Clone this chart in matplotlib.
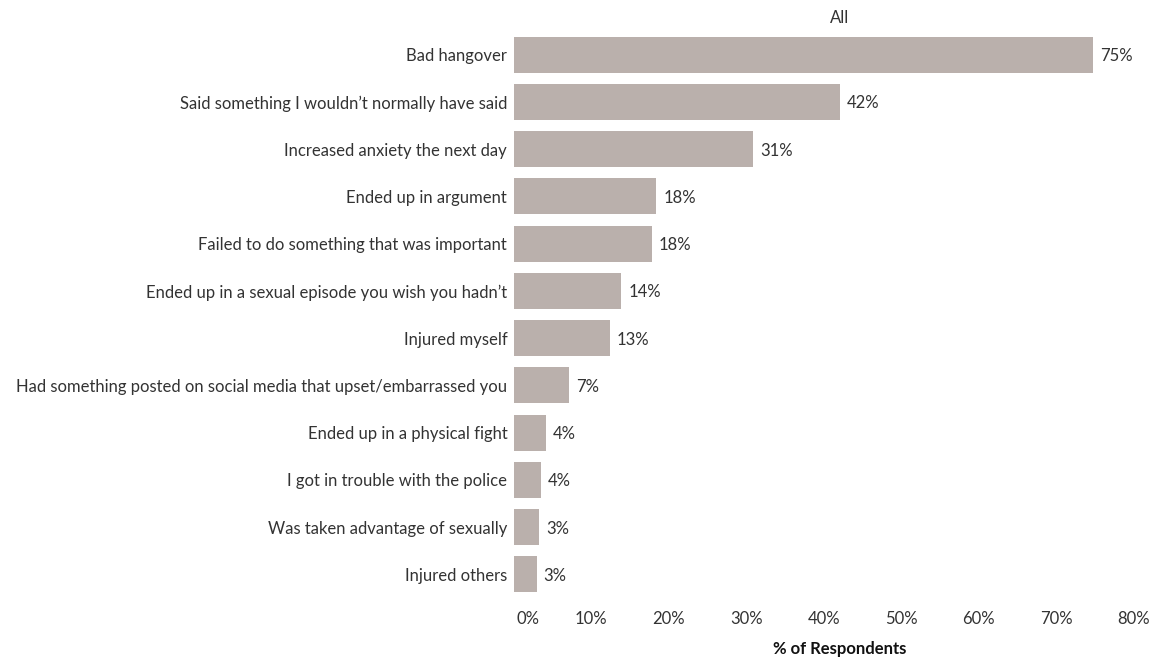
import matplotlib
matplotlib.use("Agg")
import matplotlib.pyplot as plt
from matplotlib.ticker import FixedLocator
from matplotlib.transforms import ScaledTranslation

categories = [
    "Bad hangover",
    "Said something I wouldn\u2019t normally have said",
    "Increased anxiety the next day",
    "Ended up in argument",
    "Failed to do something that was important",
    "Ended up in a sexual episode you wish you hadn\u2019t",
    "Injured myself",
    "Had something posted on social media that upset/embarrassed you",
    "Ended up in a physical fight",
    "I got in trouble with the police",
    "Was taken advantage of sexually",
    "Injured others",
]
values = [74.7, 42.1, 30.9, 18.4, 17.8, 13.9, 12.4, 7.2, 4.2, 3.5, 3.3, 3.0]
value_labels = ["75%", "42%", "31%", "18%", "18%", "14%", "13%", "7%", "4%", "4%", "3%", "3%"]
x_ticks = [0, 10, 20, 30, 40, 50, 60, 70, 80]
x_tick_labels = ["0%", "10%", "20%", "30%", "40%", "50%", "60%", "70%", "80%"]

plt.rcParams['font.family'] = ['Lato', 'DejaVu Sans']
text_color = "#333333"
bar_color = "#bab0ac"
fs = 12

W, H = 1152, 657
fig = plt.figure(figsize=(W / 100, H / 100), dpi=100)
left, right, top, bottom = 513.5, 1134, 31, 598
ax = fig.add_axes([left / W, 1 - bottom / H, (right - left) / W, (bottom - top) / H])

y = list(range(len(categories)))
ax.barh(y, values, height=0.76, color=bar_color, edgecolor="none")
ax.set_ylim(len(categories) - 0.5, -0.5)
ax.set_xlim(0, 80)

for yi, v, lab in zip(y, values, value_labels):
    ax.annotate(lab, (v, yi), xytext=(5, 0), textcoords="offset points",
                ha="left", va="center_baseline", fontsize=fs, color=text_color)

ax.set_yticks(y)
ax.set_yticklabels(categories, fontsize=fs, color=text_color, va="center_baseline")
ax.xaxis.set_major_locator(FixedLocator(x_ticks))
ax.set_xticklabels(x_tick_labels, fontsize=fs, color=text_color)
ax.tick_params(axis="both", length=0)
ax.tick_params(axis="y", pad=4.5)
ax.tick_params(axis="x", pad=9)
tl = ax.get_xticklabels()
tl[0].set_horizontalalignment("left")
tl[0].set_transform(tl[0].get_transform() + ScaledTranslation(3 / 100, 0, fig.dpi_scale_trans))
for s in ax.spines.values():
    s.set_visible(False)

fig.text(840 / W, 1 - 18 / H, "All", ha="center", va="center", fontsize=fs, color=text_color)
fig.text(840 / W, 1 - 649 / H, "% of Respondents", ha="center", va="center",
         fontsize=fs, color="#111111", fontweight="bold")

fig.savefig("out.png", dpi=100, facecolor="white")
